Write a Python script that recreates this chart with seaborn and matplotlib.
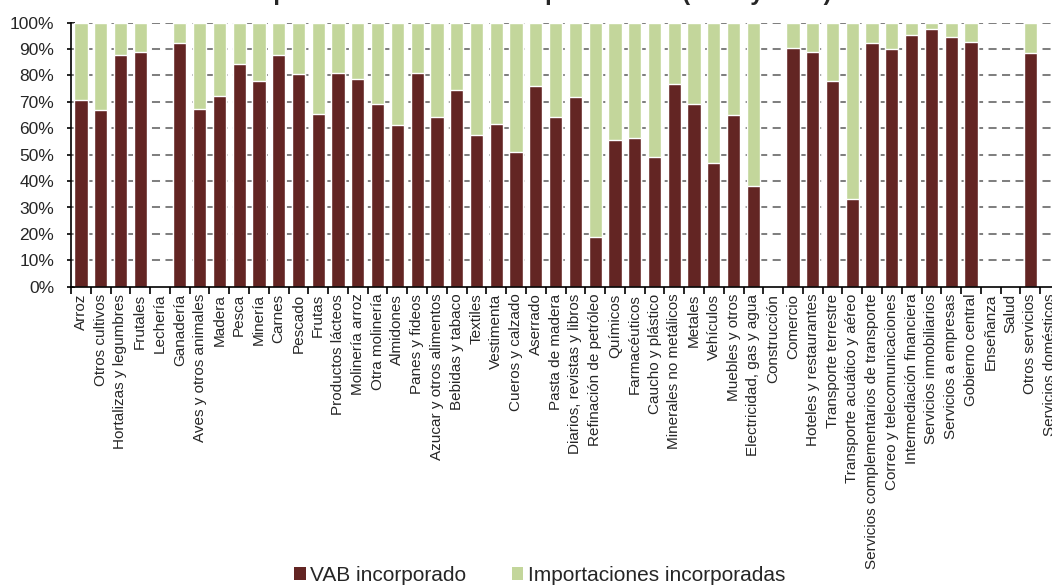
import matplotlib
matplotlib.use("Agg")
import matplotlib.pyplot as plt
import matplotlib.ticker as mticker
from matplotlib.patches import Patch
import numpy as np
import pandas as pd
import seaborn as sns

# Sectors of the economy
sectores = [
    "Arroz", "Otros cultivos", "Hortalizas y legumbres", "Frutales", "Lechería",
    "Ganadería", "Aves y otros animales", "Madera", "Pesca", "Minería",
    "Carnes", "Pescado", "Frutas", "Productos lácteos", "Molinería arroz",
    "Otra molinería", "Almidones", "Panes y fideos", "Azucar y otros alimentos",
    "Bebidas y tabaco", "Textiles", "Vestimenta", "Cueros y calzado", "Aserrado",
    "Pasta de madera", "Diarios, revistas y libros", "Refinación de petróleo",
    "Químicos", "Farmacéuticos", "Caucho y plástico", "Minerales no metálicos",
    "Metales", "Vehículos", "Muebles y otros", "Electricidad, gas y agua",
    "Construcción", "Comercio", "Hoteles y restaurantes", "Transporte terrestre",
    "Transporte acuático y aéreo", "Servicios complementarios de transporte",
    "Correo y telecomunicaciones", "Intermediación financiera",
    "Servicios inmobiliarios", "Servicios a empresas", "Gobierno central",
    "Enseñanza", "Salud", "Otros servicios", "Servicios domésticos",
]

# Share of value added (VAB) incorporated, in %
vab = [
    70.7, 67.0, 87.8, 88.8, 0.0,
    92.2, 67.4, 72.2, 84.5, 77.9,
    87.8, 80.7, 65.5, 81.0, 78.7,
    69.1, 61.4, 81.1, 64.4,
    74.4, 57.5, 61.6, 51.0, 75.9,
    64.4, 71.7, 18.9,
    55.6, 56.3, 49.0, 76.8,
    69.1, 47.0, 64.9, 38.3,
    0.0, 90.3, 89.0, 78.0,
    33.1, 92.2,
    89.9, 95.5,
    97.6, 94.5, 92.8,
    0.0, 0.0, 88.6, 0.0,
]

# Share of imports incorporated, in %
importaciones = [
    29.3, 33.0, 12.2, 11.2, 0.0,
    7.8, 32.6, 27.8, 15.5, 22.1,
    12.2, 19.3, 34.5, 19.0, 21.3,
    30.9, 38.6, 18.9, 35.6,
    25.6, 42.5, 38.4, 49.0, 24.1,
    35.6, 28.3, 81.1,
    44.4, 43.7, 51.0, 23.2,
    30.9, 53.0, 35.1, 61.7,
    0.0, 9.7, 11.0, 22.0,
    66.9, 7.8,
    10.1, 4.5,
    2.4, 5.5, 7.2,
    0.0, 0.0, 11.4, 0.0,
]

titulo = "Composición del valor de la producción (2005 y 2012)"
leyenda = ["VAB incorporado", "Importaciones incorporadas"]

color_vab = "#632523"
color_imp = "#C3D69B"

df = pd.DataFrame({
    "sector": sectores,
    "vab": vab,
    "total": np.array(vab) + np.array(importaciones),
})

sns.set_theme(style="white")
plt.rcParams["font.family"] = ["Liberation Sans", "DejaVu Sans"]

fig = plt.figure(figsize=(10.52, 5.86), dpi=100)
n = len(sectores)
ax_left = 71 / 1052
ax_bottom = 1 - 286.7 / 586
ax_height = (286.7 - 22.7) / 586
ax_width = n * 19.78 / 1052
ax = fig.add_axes([ax_left, ax_bottom, ax_width, ax_height])

# Stacked bars: the full stack in green, VAB drawn over it in maroon
sns.barplot(data=df, x="sector", y="total", color=color_imp, width=0.67,
            saturation=1, ax=ax, zorder=2)
sns.barplot(data=df, x="sector", y="vab", color=color_vab, width=0.67,
            saturation=1, ax=ax, zorder=3)

ax.set_xlim(-0.5, n - 0.5)
ax.set_ylim(0, 100)
ax.set_xlabel("")
ax.set_ylabel("")

# Dashed horizontal gridlines
ax.yaxis.set_major_locator(mticker.MultipleLocator(10))
ax.yaxis.set_major_formatter(mticker.FuncFormatter(lambda v, p: f"{v:.0f}%"))
for yv in range(10, 101, 10):
    ax.axhline(yv, color="#808080", lw=1.45, linestyle=(0, (4, 2.7)), zorder=1)

# Category labels at centers, tick marks at category boundaries
ax.set_xticks(range(n))
ax.set_xticklabels(sectores, rotation=90, fontsize=11)
ax.xaxis.set_minor_locator(mticker.FixedLocator(np.arange(-0.5, n, 1)))
ax.tick_params(axis="x", which="major", length=0, pad=5)
ax.tick_params(axis="x", which="minor", length=5, width=1.2, direction="out",
               color="black", bottom=True)
ax.tick_params(axis="y", which="major", length=6, width=1.2, direction="inout",
               color="black", labelsize=12.5, pad=9, left=True)

for side in ("top", "right"):
    ax.spines[side].set_visible(False)
for side in ("left", "bottom"):
    ax.spines[side].set_visible(True)
    ax.spines[side].set_color("black")
    ax.spines[side].set_linewidth(1.2)
ax.spines["bottom"].set_zorder(4)

# Title, running off the top edge of the canvas
fig.text(0.5, 1.0, titulo, ha="center", va="baseline",
         fontsize=17.3, fontweight="bold")

# Legend at the bottom
handles = [Patch(facecolor=color_vab, edgecolor="none"),
           Patch(facecolor=color_imp, edgecolor="none")]
fig.legend(handles, leyenda, loc="lower center", bbox_to_anchor=(0.513, -0.03),
           ncol=2, frameon=False, fontsize=15, handlelength=0.55, handleheight=0.55,
           handletextpad=0.2, columnspacing=2.2)

fig.savefig("out.png", dpi=100)
